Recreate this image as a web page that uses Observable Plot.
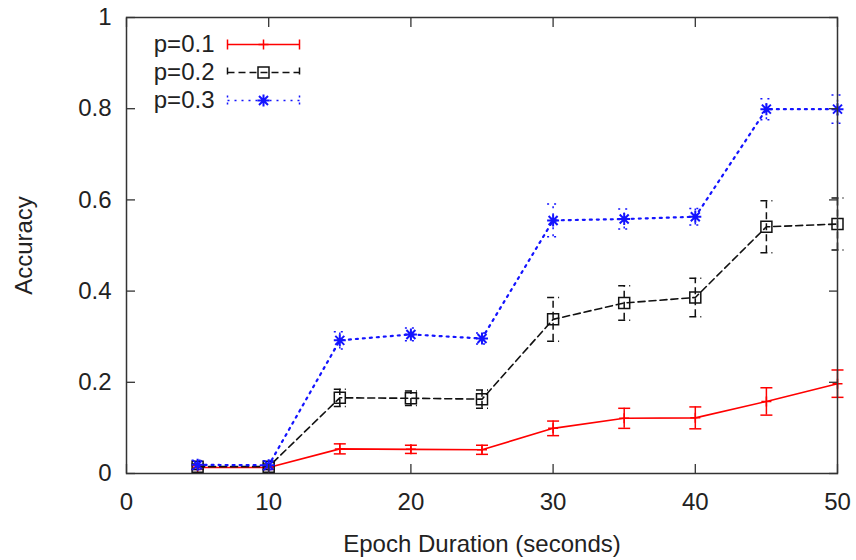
<!DOCTYPE html>
<html><head><meta charset="utf-8">
<script src="https://cdn.jsdelivr.net/npm/d3@7"></script>
<script src="https://cdn.jsdelivr.net/npm/@observablehq/plot@0.6"></script>
<style>body{margin:0;background:#fff;} #chart{width:856px;height:560px;}</style>
</head><body><div id="chart"></div>
<script>
// ---- data ----
const epochs = [5, 10, 15, 20, 25, 30, 35, 40, 45, 50];
const seriesNames = ["p=0.1", "p=0.2", "p=0.3"];
const acc01 = [0.013, 0.013, 0.054, 0.053, 0.052, 0.099, 0.121, 0.122, 0.158, 0.197];
const err01 = [0.004, 0.004, 0.011, 0.009, 0.010, 0.016, 0.022, 0.024, 0.030, 0.030];
const acc02 = [0.015, 0.015, 0.166, 0.165, 0.163, 0.338, 0.374, 0.386, 0.541, 0.547];
const err02 = [0.006, 0.006, 0.019, 0.016, 0.020, 0.048, 0.038, 0.042, 0.057, 0.057];
const acc03 = [0.019, 0.018, 0.292, 0.305, 0.296, 0.555, 0.558, 0.563, 0.799, 0.799];
const err03 = [0.010, 0.010, 0.019, 0.014, 0.012, 0.036, 0.022, 0.018, 0.023, 0.031];
const xTicks = [0, 10, 20, 30, 40, 50];
const yTicks = [0, 0.2, 0.4, 0.6, 0.8, 1];
const yTickLabels = ["0", "0.2", "0.4", "0.6", "0.8", "1"];
const xLabel = "Epoch Duration (seconds)";
const yLabel = "Accuracy";

// ---- symbols ----
const rad = s => Math.sqrt(s / Math.PI);
const capSym = {draw(c, s) { const r = rad(s); c.moveTo(-r, 0); c.lineTo(r, 0); }};
const plusSym = {draw(c, s) { const r = rad(s); c.moveTo(-r, 0); c.lineTo(r, 0); c.moveTo(0, -r); c.lineTo(0, r); }};
const squareSym = {draw(c, s) { const r = rad(s); c.moveTo(-r, -r); c.lineTo(r, -r); c.lineTo(r, r); c.lineTo(-r, r); c.closePath(); }};
const starSym = {draw(c, s) { const r = rad(s); const d = r * 0.75;
  c.moveTo(-r, 0); c.lineTo(r, 0); c.moveTo(0, -r); c.lineTo(0, r);
  c.moveTo(-d, -d); c.lineTo(d, d); c.moveTo(-d, d); c.lineTo(d, -d); }};
const sampleSym = {draw(c, s) { const r = rad(s);
  c.moveTo(-r, 0); c.lineTo(r, 0);
  c.moveTo(-r, -5); c.lineTo(-r, 5); c.moveTo(r, -5); c.lineTo(r, 5); }};

// ---- styles ----
const styles = [
  {stroke: "#ff0000", dash: null, width: 1.6, marker: plusSym, mr: 5, mw: 1.5},
  {stroke: "#111111", dash: "7,4", width: 1.6, marker: squareSym, mr: 5.5, mw: 1.5},
  {stroke: "#1414ff", dash: "2,5", width: 2.2, marker: starSym, mr: 6, mw: 2}
];

const values = [acc01, acc02, acc03];
const errors = [err01, err02, err03];

const marks = [];
seriesNames.forEach((name, k) => {
  const st = styles[k];
  const rows = epochs.map((x, i) => ({series: name, x, y: values[k][i], lo: values[k][i] - errors[k][i], hi: values[k][i] + errors[k][i]}));
  const common = {stroke: st.stroke, strokeWidth: st.width, strokeDasharray: st.dash};
  marks.push(
    Plot.lineY(rows, {x: "x", y: "y", ...common}),
    Plot.ruleX(rows, {x: "x", y1: "lo", y2: "hi", ...common, strokeWidth: 1.5}),
    Plot.dot(rows, {x: "x", y: "lo", symbol: capSym, r: 6, fill: "none", ...common, strokeWidth: 1.5}),
    Plot.dot(rows, {x: "x", y: "hi", symbol: capSym, r: 6, fill: "none", ...common, strokeWidth: 1.5}),
    Plot.dot(rows, {x: "x", y: "y", symbol: st.marker, r: st.mr, fill: "none", stroke: st.stroke, strokeWidth: st.mw})
  );
  // legend entry
  const dy = 27 + 28 * k;
  marks.push(
    Plot.text([name], {text: d => d, frameAnchor: "top-left", dx: 88, dy, textAnchor: "end", lineAnchor: "middle", fill: "#222"}),
    Plot.dot([name], {frameAnchor: "top-left", dx: 137, dy, symbol: sampleSym, r: 36, fill: "none", ...common, strokeWidth: 1.5}),
    Plot.dot([name], {frameAnchor: "top-left", dx: 137, dy, symbol: st.marker, r: st.mr, fill: "none", stroke: st.stroke, strokeWidth: st.mw})
  );
});

const chart = Plot.plot({
  width: 856,
  height: 560,
  marginLeft: 126,
  marginRight: 19,
  marginTop: 17,
  marginBottom: 87,
  style: {fontSize: "24px", fontFamily: "'Liberation Sans', Arial, Helvetica, sans-serif", color: "#222", background: "#fff"},
  x: {domain: [0, 50]},
  y: {domain: [0, 1]},
  marks: [
    ...marks,
    Plot.frame({stroke: "#333", strokeWidth: 1.5}),
    Plot.axisX({anchor: "bottom", ticks: xTicks, tickSize: -9, fill: "none", label: null, stroke: "#333", strokeWidth: 1.3}),
    Plot.axisX({anchor: "top", ticks: xTicks, tickSize: -9, fill: "none", label: null, stroke: "#333", strokeWidth: 1.3}),
    Plot.axisY({anchor: "left", ticks: yTicks, tickSize: -9, fill: "none", label: null, stroke: "#333", strokeWidth: 1.3}),
    Plot.axisY({anchor: "right", ticks: yTicks, tickSize: -9, fill: "none", label: null, stroke: "#333", strokeWidth: 1.3}),
    Plot.axisX({anchor: "bottom", ticks: xTicks, tickSize: 0, tickPadding: 19, tickFormat: d => String(d),
      label: xLabel, labelAnchor: "center", labelArrow: "none", labelOffset: 78, fill: "#222"}),
    Plot.axisY({anchor: "left", ticks: yTicks, tickSize: 0, tickPadding: 15, tickFormat: d => yTickLabels[yTicks.indexOf(d)],
      label: yLabel, labelAnchor: "center", labelArrow: "none", labelOffset: 112, fill: "#222"})
  ]
});
document.getElementById("chart").appendChild(chart);
</script>
</body></html>
